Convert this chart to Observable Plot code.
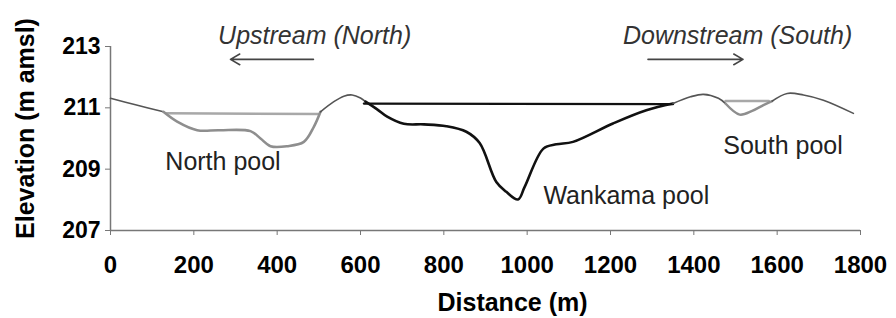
<!DOCTYPE html>
<html><head><meta charset="utf-8">
<script src="https://cdn.jsdelivr.net/npm/d3@7"></script>
<script src="https://cdn.jsdelivr.net/npm/@observablehq/plot@0.6"></script>
<style>body{margin:0;background:#fff;overflow:hidden}</style>
</head><body><div id="chart"></div>
<script>
// Ground profile segments (distance m, elevation m amsl)
const westDist = [0, 60, 127];
const westElev = [211.31, 211.1, 210.87];
const northBedDist = [127, 160, 208, 260, 336, 360, 384, 424, 464, 488, 504];
const northBedElev = [210.87, 210.55, 210.27, 210.27, 210.24, 210.0, 209.75, 209.75, 209.89, 210.38, 210.87];
const northWaterDist = [135, 500];
const northWaterElev = [210.82, 210.8];
const ridgeDist = [504, 536, 560, 580, 600, 612];
const ridgeElev = [210.87, 211.2, 211.38, 211.42, 211.32, 211.2];
const wankamaBedDist = [612, 640, 664, 704, 752, 806, 854, 886, 926, 950, 978, 994, 1039, 1070, 1110, 1206, 1286, 1350];
const wankamaBedElev = [211.2, 210.95, 210.71, 210.48, 210.46, 210.4, 210.22, 209.85, 208.58, 208.26, 208.01, 208.42, 209.67, 209.81, 209.89, 210.49, 210.92, 211.14];
const wankamaWaterDist = [608, 1350];
const wankamaWaterElev = [211.14, 211.12];
const eastDist = [1350, 1392, 1423, 1459, 1476];
const eastElev = [211.14, 211.36, 211.44, 211.31, 211.14];
const southBedDist = [1476, 1510, 1540, 1567, 1588];
const southBedElev = [211.14, 210.78, 210.9, 211.09, 211.22];
const southWaterDist = [1476, 1580];
const southWaterElev = [211.22, 211.22];
const eastEndDist = [1588, 1624, 1663, 1711, 1783];
const eastEndElev = [211.22, 211.47, 211.42, 211.25, 210.82];

// Tick labels
const xTicks = [0, 200, 400, 600, 800, 1000, 1200, 1400, 1600, 1800];
const yTicks = [207, 209, 211, 213];

// Annotations
const poolNames = ["North pool", "Wankama pool", "South pool"];
const poolLabelDist = [270, 1238, 1614];
const poolLabelElev = [209.23, 208.11, 209.75];
const dirNames = ["Upstream (North)", "Downstream (South)"];
const dirLabelDist = [490, 1505];
const dirLabelElev = [213.34, 213.34];
const arrowFrom = [487, 1290];
const arrowTo = [288, 1518];
const arrowElev = [212.58, 212.58];

const pts = (d, e) => d.map((x, i) => ({x, y: e[i]}));
const font = "'Liberation Sans', Arial, sans-serif";

const profileGray = "#555";
const bedGray = "#8e8e8e";
const waterGray = "#a8a8a8";

const chart = Plot.plot({
  width: 896,
  height: 318,
  marginLeft: 110,
  marginRight: 36,
  marginTop: 46,
  marginBottom: 88,
  style: {fontFamily: font, background: "#fff", color: "#000", overflow: "visible"},
  x: {domain: [0, 1800]},
  y: {domain: [207, 213]},
  marks: [
    Plot.ruleX([0], {stroke: "#777", strokeWidth: 1.5}),
    Plot.ruleY([207], {stroke: "#777", strokeWidth: 1.5}),
    Plot.axisX({ticks: xTicks, tickSize: 5, tickPadding: 20, label: null, fontSize: 24, fontWeight: "bold", stroke: "#777", fill: "#000", tickFormat: d => String(d)}),
    Plot.axisY({ticks: yTicks, tickSize: 5, tickPadding: 5, label: null, fontSize: 23, fontWeight: "bold", stroke: "#777", fill: "#000", tickFormat: d => String(d)}),
    Plot.text(["Distance (m)"], {frameAnchor: "bottom", dx: 27, dy: 72, fontSize: 25, fontWeight: "bold", lineAnchor: "middle", textAnchor: "middle"}),
    Plot.text(["Elevation (m amsl)"], {frameAnchor: "left", dx: -85, dy: -10, rotate: -90, fontSize: 25, fontWeight: "bold", lineAnchor: "middle", textAnchor: "middle"}),
    // water levels
    Plot.line(pts(northWaterDist, northWaterElev), {x: "x", y: "y", stroke: waterGray, strokeWidth: 2.5}),
    Plot.line(pts(southWaterDist, southWaterElev), {x: "x", y: "y", stroke: waterGray, strokeWidth: 2.5}),
    Plot.line(pts(wankamaWaterDist, wankamaWaterElev), {x: "x", y: "y", stroke: "#111", strokeWidth: 2.2}),
    // ground profile
    Plot.line(pts(westDist, westElev), {x: "x", y: "y", stroke: profileGray, strokeWidth: 1.6, curve: "catmull-rom"}),
    Plot.line(pts(northBedDist, northBedElev), {x: "x", y: "y", stroke: bedGray, strokeWidth: 2.6, curve: "catmull-rom"}),
    Plot.line(pts(ridgeDist, ridgeElev), {x: "x", y: "y", stroke: profileGray, strokeWidth: 1.6, curve: "catmull-rom"}),
    Plot.line(pts(wankamaBedDist, wankamaBedElev), {x: "x", y: "y", stroke: "#111", strokeWidth: 2.6, curve: "catmull-rom"}),
    Plot.line(pts(eastDist, eastElev), {x: "x", y: "y", stroke: profileGray, strokeWidth: 1.6, curve: "catmull-rom"}),
    Plot.line(pts(southBedDist, southBedElev), {x: "x", y: "y", stroke: bedGray, strokeWidth: 2.4, curve: "catmull-rom"}),
    Plot.line(pts(eastEndDist, eastEndElev), {x: "x", y: "y", stroke: profileGray, strokeWidth: 1.6, curve: "catmull-rom"}),
    // labels
    Plot.text(poolNames, {x: (d, i) => poolLabelDist[i], y: (d, i) => poolLabelElev[i], text: d => d, fontSize: 25, fill: "#222", lineAnchor: "middle"}),
    Plot.text(dirNames, {x: (d, i) => dirLabelDist[i], y: (d, i) => dirLabelElev[i], text: d => d, fontSize: 25, fontStyle: "italic", fill: "#333", lineAnchor: "middle"}),
    Plot.arrow(arrowFrom, {x1: d => d, x2: (d, i) => arrowTo[i], y1: (d, i) => arrowElev[i], y2: (d, i) => arrowElev[i], stroke: "#444", strokeWidth: 1.6, headLength: 10})
  ]
});
document.getElementById("chart").appendChild(chart);
</script></body></html>
